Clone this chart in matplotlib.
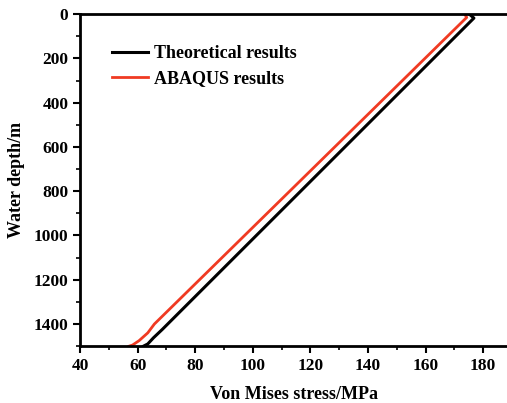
import numpy as np
import matplotlib.pyplot as plt
from matplotlib.ticker import MultipleLocator

plt.rcParams['font.family'] = ['Liberation Serif', 'DejaVu Serif']
plt.rcParams['font.weight'] = 'bold'

# stress along the riser (MPa) against water depth (m)
depth_theory = [0, 18, 1425, 1462, 1490, 1500]
stress_theory = [175.2, 176.8, 68.5, 65.5, 63.5, 62.0]

depth_abaqus = [0, 15, 1400, 1440, 1475, 1495, 1500]
stress_abaqus = [173.6, 174.3, 65.8, 63.5, 60.5, 58.2, 57.0]

fig = plt.figure(figsize=(5.07, 4.03), dpi=100)
ax = fig.add_axes([0.158, 0.141, 0.842, 0.824])

ax.plot(stress_theory, depth_theory, color='black', lw=2.2, label='Theoretical results')
ax.plot(stress_abaqus, depth_abaqus, color='#f03a22', lw=2.0, label='ABAQUS results')

ax.set_xlim(40, 188.3)
ax.set_ylim(1500, 0)
ax.xaxis.set_major_locator(MultipleLocator(20))
ax.xaxis.set_minor_locator(MultipleLocator(10))
ax.yaxis.set_major_locator(MultipleLocator(200))
ax.yaxis.set_minor_locator(MultipleLocator(100))
ax.tick_params(which='major', direction='out', length=5, width=1.5, labelsize=12.5)
ax.tick_params(which='minor', direction='out', length=3, width=1.2)
ax.spines['right'].set_visible(False)
for s in ['left', 'top', 'bottom']:
    ax.spines[s].set_linewidth(2)

ax.set_xlabel('Von Mises stress/MPa', fontsize=13, fontweight='bold', labelpad=9)
ax.set_ylabel('Water depth/m', fontsize=13, fontweight='bold', labelpad=6)

ax.legend(loc='upper left', bbox_to_anchor=(0.037, 0.955), frameon=False,
          handlelength=2.0, handletextpad=0.3, labelspacing=0.45,
          prop={'weight': 'bold', 'size': 13})

fig.savefig('out.png', dpi=100)
